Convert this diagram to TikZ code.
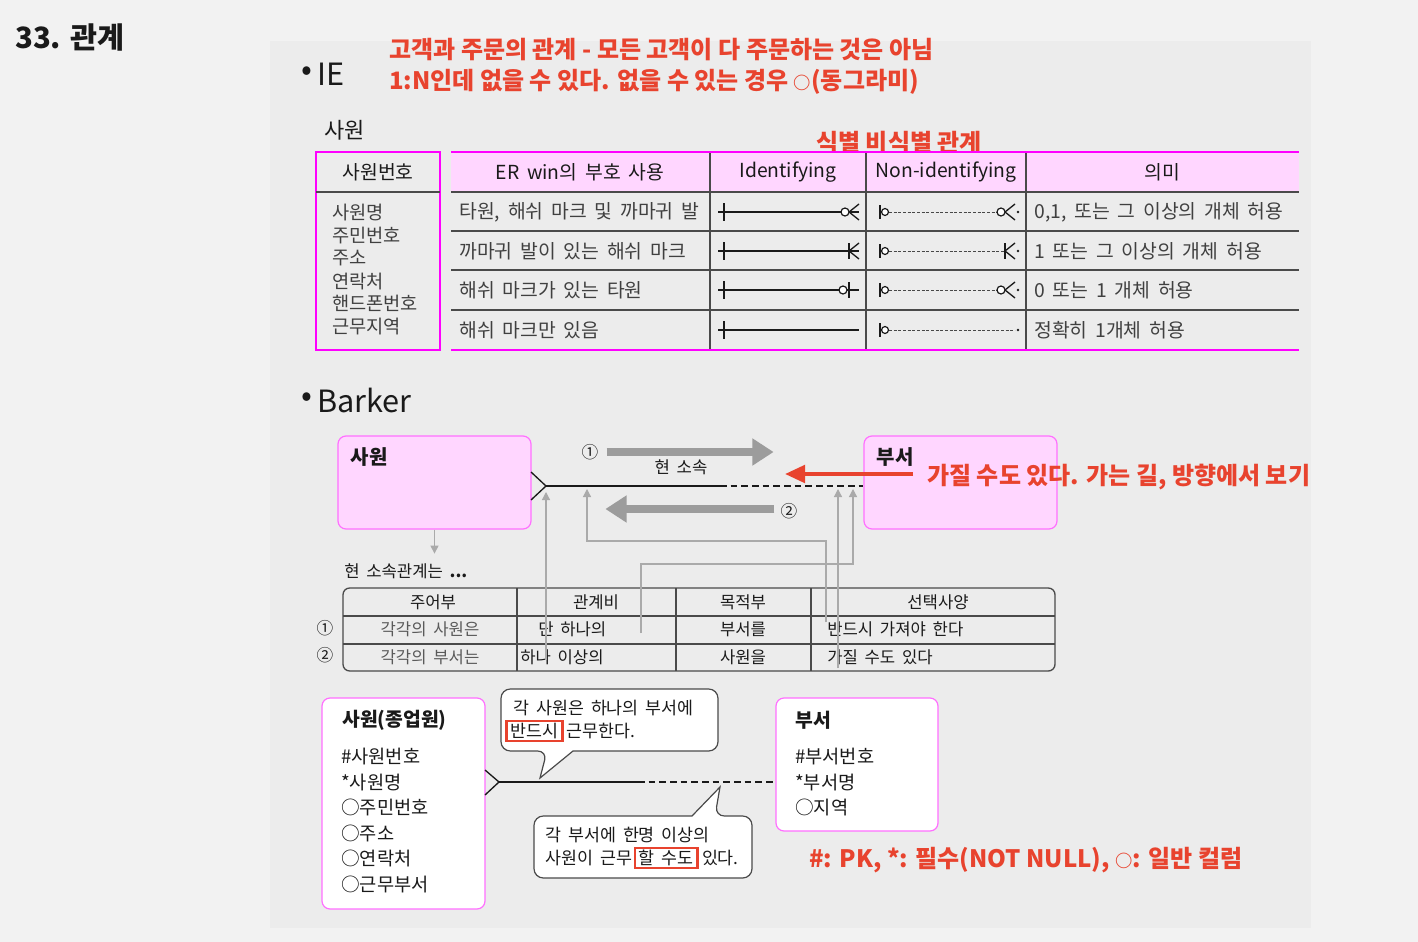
\documentclass[tikz,border=0pt]{standalone}
\usepackage{fontspec}
\setmainfont{Noto Sans CJK KR}
\newfontfamily\wide[WordSpace=1.8]{Noto Sans CJK KR}
\usetikzlibrary{positioning,arrows.meta,calc}
\definecolor{paper}{HTML}{F2F2F2}
\definecolor{panel}{HTML}{ECECEC}
\definecolor{pinkbg}{HTML}{FFD6FF}
\definecolor{magline}{HTML}{FF00FF}
\definecolor{magsoft}{HTML}{FF70FF}
\definecolor{redink}{HTML}{E8432E}
\definecolor{ink}{HTML}{1A1A1A}
\definecolor{rule}{HTML}{4A4A4A}
\definecolor{celltxt}{HTML}{404040}
\definecolor{softtxt}{HTML}{5A5A5A}
\definecolor{fatgrey}{HTML}{9C9C9C}
\definecolor{linkgrey}{HTML}{AAAAAA}
\tikzset{
  headline/.style={font=\bfseries\fontsize{22pt}{26pt}\selectfont, text=ink, inner sep=0pt, anchor=west},
  sec/.style={font=\fontsize{23pt}{27pt}\selectfont, text=ink, inner sep=0pt, anchor=west},
  bul/.style={font=\fontsize{24pt}{27pt}\selectfont, text=ink, inner sep=0pt},
  rednote/.style={font=\bfseries\fontsize{18pt}{21pt}\selectfont, text=redink, inner sep=0pt, anchor=west},
  head/.style={font=\wide\fontsize{14.5pt}{17pt}\selectfont, text=ink, inner sep=0pt},
  cellt/.style={font=\wide\fontsize{14.5pt}{17pt}\selectfont, text=celltxt, inner sep=0pt, anchor=west},
  tline/.style={draw=rule, line width=1pt},
  hot/.style={draw=magline, line width=2pt},
  sym/.style={draw=ink, line width=1pt},
  symdash/.style={draw=ink!80, line width=0.75pt, dash pattern=on 2.2pt off 1.3pt},
  hole/.style={draw=ink, fill=white, line width=0.9pt},
  ent/.style={draw=magsoft, fill=pinkbg, rounded corners=6pt, line width=0.9pt},
  wbox/.style={draw=magsoft, fill=white, rounded corners=6pt, line width=0.9pt},
  enttl/.style={font=\bfseries\fontsize{15pt}{18pt}\selectfont, text=ink, inner sep=0pt, anchor=west},
  attr/.style={font=\fontsize{14pt}{17pt}\selectfont, text=ink, inner sep=0pt, anchor=west},
  small/.style={font=\wide\fontsize{12.5pt}{15pt}\selectfont, text=ink, inner sep=0pt},
  fatar/.style={draw=fatgrey, line width=6pt, -{Triangle[length=16pt,width=19.5pt]}},
  redar/.style={draw=redink, line width=3pt, -{Triangle[length=15pt,width=13pt]}},
  link/.style={draw=linkgrey, line width=0.9pt, -{Triangle[length=6pt,width=6pt]}},
  callbox/.style={draw=rule, fill=white, line width=0.9pt},
  calltxt/.style={font=\wide\fontsize{13pt}{17pt}\selectfont, text=ink, inner sep=0pt, anchor=west},
  redbox/.style={draw=redink, line width=2pt, inner xsep=3pt, inner ysep=1.5pt},
}

\begin{document}
\begin{tikzpicture}[x=0.75pt, y=-0.75pt]
\useasboundingbox (0,0) rectangle (1418,942);
\fill[paper] (0,0) rectangle (1418,942);
\fill[panel] (270,41) rectangle (1311,928);

\node[headline] (ttl) at (15,38) {33. 관계};

% IE
\node[sec] (ie) at (317,74) {IE};
\node[bul, left=3pt of ie] (ieb) {•};
\node[rednote] (nt1) at (389,50) {고객과 주문의 관계 - 모든 고객이 다 주문하는 것은 아님};
\node[rednote] (nt2) at (389,82) {1:N인데 없을 수 있다. 없을 수 있는 경우 {\fontsize{13pt}{15pt}\selectfont ○}(동그라미)};
\node[sec, font=\fontsize{16.5pt}{19pt}\selectfont] (tbl) at (324,130) {사원};
\node[rednote] (nt3) at (816,143) {식별 비식별 관계};

\draw[hot] (316,152) rectangle (440,350);
\draw[tline] (316,192) -- (440,192);
\node[head] (pk) at (378,172) {사원번호};
\foreach \a [count=\i] in {사원명,주민번호,주소,연락처,핸드폰번호,근무지역}
  \node[cellt, font=\fontsize{14pt}{16pt}\selectfont] (at\i) at (332,{213+22.7*(\i-1)}) {\a};

\fill[pinkbg] (451,152) rectangle (1299,192);
\foreach \y in {192,231,270,310} \draw[tline] (451,\y) -- (1299,\y);
\foreach \x in {710,866,1026} \draw[tline] (\x,152) -- (\x,350);
\draw[hot] (451,152) -- (1299,152) (451,350) -- (1299,350);
\foreach \x/\t [count=\i] in {580/{ER win의 부호 사용},788/Identifying,946/Non-identifying,1162/의미}
  \node[head] (hd\i) at (\x,172) {\t};

\foreach \y/\a/\m [count=\i] in {
    212/{타원, 해쉬 마크 및 까마귀 발}/{0,1, 또는 그 이상의 개체 허용},
    251/{까마귀 발이 있는 해쉬 마크}/{1 또는 그 이상의 개체 허용},
    290/{해쉬 마크가 있는 타원}/{0 또는 1 개체 허용},
    330/{해쉬 마크만 있음}/{정확히 1개체 허용}}{
  \node[cellt] (sg\i) at (459,\y) {\a};
  \node[cellt] (mn\i) at (1034,\y) {\m};
  \draw[sym] (718,\y) -- (859,\y);
  \draw[sym] (724,{\y-9}) -- (724,{\y+9});
  \draw[sym] (880,{\y-7}) -- (880,{\y+7});
}
% identifying ends
\draw[hole] (845,212) circle (3pt);
\draw[sym] (849,212) -- (859,204) (849,212) -- (859,220);
\draw[sym] (849,243) -- (849,259);
\draw[sym] (849,251) -- (859,243) (849,251) -- (859,259);
\draw[hole] (843,290) circle (3pt);
\draw[sym] (849,282) -- (849,298);
% non-identifying ends
\draw[symdash] (889,212) -- (997,212);
\draw[symdash] (889,251) -- (1005,251);
\draw[symdash] (889,290) -- (997,290);
\draw[symdash] (889,330) -- (1015,330);
\foreach \y in {212,251,290,330} {
  \draw[hole] (885,\y) circle (2.6pt);
  \fill[ink] (1018,\y) circle (1.1pt);
}
\foreach \y in {212,290} {
  \draw[hole] (1001,\y) circle (3pt);
  \draw[sym] (1005,\y) -- (1015,{\y-8}) (1005,\y) -- (1015,{\y+8});
}
\draw[sym] (1005,243) -- (1005,259);
\draw[sym] (1005,251) -- (1015,243) (1005,251) -- (1015,259);

% Barker
\node[sec] (bk) at (317,400) {Barker};
\node[bul, left=3pt of bk] (bkb) {•};
\node[ent, minimum width=144.75pt, minimum height=69.75pt] (emp) at (434.5,482.5) {};
\node[enttl] (empt) at ($(emp.north west)+(13,22)$) {사원};
\node[ent, minimum width=144.75pt, minimum height=69.75pt] (dept) at (960.5,482.5) {};
\node[enttl] (deptt) at ($(dept.north west)+(13,22)$) {부서};

\coordinate (ft) at (546,486);
\coordinate (brk) at (720,486);
\draw[sym] ($(ft)+(-15,-14)$) -- (ft) -- ($(ft)+(-15,14)$);
\draw[sym] (ft) -- (brk);
\draw[sym, dash pattern=on 5pt off 3pt] (brk) -- (dept.west |- ft);
\node[small] (rel) at (681,467) {현 소속};

\node[small] (c1) at (590,452) {①};
\draw[fatar] ($(c1.east)+(8,0)$) -- ++(167,0);
\node[small] (c2) at (789,511) {②};
\draw[fatar] ($(c2.west)+(-6,-2)$) -- ++(-169,0);

\node[rednote] (rn) at (927,477) {가질 수도 있다. 가는 길, 방향에서 보기};
\draw[redar] ($(rn.west)+(-14,-3)$) -- ++(-128,0);

\node[small, anchor=west] (cap) at (344,571) {현 소속관계는 \textbf{...}};
\draw[link] (emp.south) -- ++(0,24);

\draw[tline, rounded corners=5pt] (343,588) rectangle (1055,671);
\foreach \y in {616,644} \draw[tline] (343,\y) -- (1055,\y);
\foreach \x in {517,676,811} \draw[tline] (\x,588) -- (\x,671);
\foreach \x/\t [count=\i] in {433/주어부,596/관계비,743/목적부,938/선택사양}
  \node[small] (th\i) at (\x,602) {\t};
\node[small] (k1) at (325,628) {①};
\node[small] (k2) at (325,655) {②};
\node[small, text=softtxt] (s1) at (430,629) {각각의 사원은};
\node[small, anchor=west] (q1) at (538,629) {단 하나의};
\node[small] (o1) at (743,629) {부서를};
\node[small, anchor=west] (p1) at (827,629) {반드시 가져야 한다};
\node[small, text=softtxt] (s2) at (430,657) {각각의 부서는};
\node[small, anchor=west] (q2) at (520,657) {하나 이상의};
\node[small] (o2) at (743,657) {사원을};
\node[small, anchor=west] (p2) at (827,657) {가질 수도 있다};

\coordinate (sA) at (546,660);
\coordinate (sB) at (826,622);
\coordinate (sC) at (641,633);
\coordinate (sD) at (838,668);
\coordinate (tA) at (546,492);
\coordinate (tB) at (587,489);
\coordinate (tC) at (853,489);
\coordinate (tD) at (838,489);
\draw[link] (sA) -- (tA);
\draw[link] (sB) -- ++(0,-81) -| (tB);
\draw[link] (sC) -- ++(0,-69) -| (tC);
\draw[link] (sD) -- (tD);

% bottom
\node[wbox, minimum width=122.25pt, minimum height=158.25pt] (emp2) at (403.5,803.5) {};
\node[enttl, font=\bfseries\fontsize{14.5pt}{17pt}\selectfont] (emp2t) at (342,720) {사원(종업원)};
\foreach \a [count=\i] in {\#사원번호,*사원명,○주민번호,○주소,○연락처,○근무부서}
  \node[attr] (ea\i) at (341,{757+25.4*(\i-1)}) {\a};
\node[wbox, minimum width=121.5pt, minimum height=99.75pt] (dept2) at (857,764.5) {};
\node[enttl, font=\bfseries\fontsize{14.5pt}{17pt}\selectfont] (dept2t) at (795,720) {부서};
\foreach \a [count=\i] in {\#부서번호,*부서명,○지역}
  \node[attr] (da\i) at (795,{757+25.4*(\i-1)}) {\a};

\coordinate (ft2) at (499,782);
\coordinate (brk2) at (638,782);
\draw[sym] ($(ft2)+(-14,-12)$) -- (ft2) -- ($(ft2)+(-14,13)$);
\draw[sym] (ft2) -- (brk2);
\draw[sym, dash pattern=on 5pt off 3pt] (brk2) -- (dept2.west |- ft2);

\draw[callbox] (573,751) {[rounded corners=7pt] -| (718,689) -| (501,751) -- (547,751)} -- (540,778) -- cycle;
\node[calltxt] (cl1) at (513,708) {각 사원은 하나의 부서에};
\node[calltxt, redbox, anchor=west] (must) at (505,731) {반드시};
\node[calltxt, right=2pt of must] (cl1b) {근무한다.};

\draw[callbox] (692,816) {[rounded corners=7pt] -| (534,878) -| (752,816) -- (715,816)} -- (720,787) -- cycle;
\node[calltxt] (cl2) at (545,835) {각 부서에 한명 이상의};
\node[calltxt] (cl2a) at (545,858) {사원이 근무};
\node[calltxt, redbox, right=1pt of cl2a] (may) {할 수도};
\node[calltxt, right=2pt of may] (cl2b) {있다.};

\node[rednote] (legend) at (809,860) {\#: PK, *: 필수(NOT NULL), {\fontsize{13pt}{15pt}\selectfont ○}: 일반 컬럼};
\end{tikzpicture}
\end{document}
